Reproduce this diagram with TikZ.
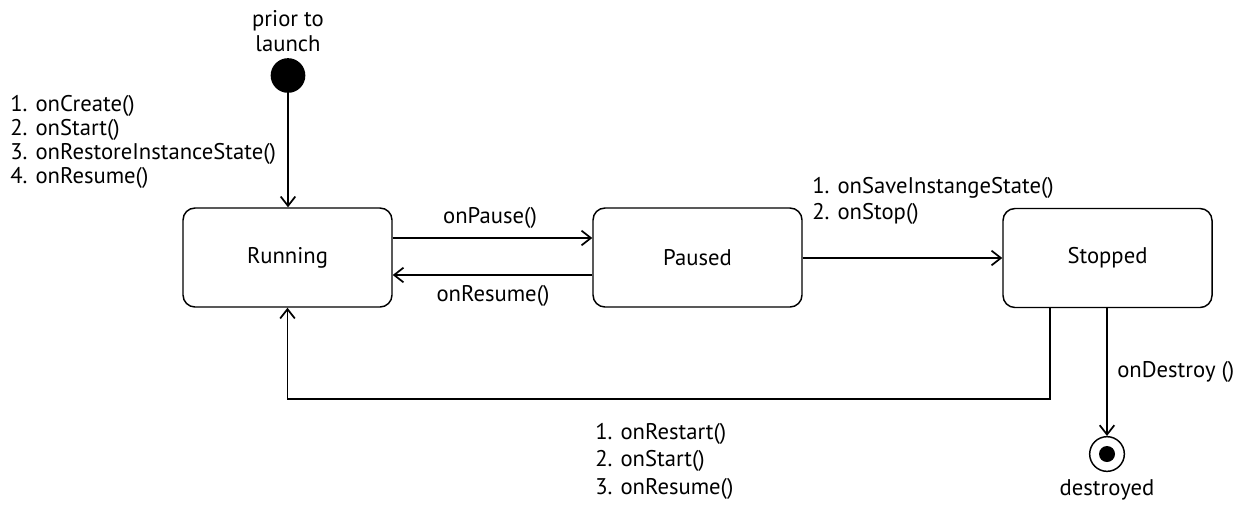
\documentclass[tikz,border=0pt]{standalone}
\usepackage{fontspec}
\setmainfont{PT Sans}
\usetikzlibrary{arrows.meta}
\begin{document}
\begin{tikzpicture}[x=0.75pt,y=-0.75pt,
  state/.style={draw, line width=1.1pt, rounded corners=9pt, minimum width=156.75pt, minimum height=74.25pt, font=\fontsize{17}{20}\selectfont},
  lbl/.style={font=\fontsize{17}{18}\selectfont, inner sep=0pt},
  conn/.style={line width=1.1pt, -{Straight Barb[length=7pt,width=11pt,line width=1.3pt]}},
]
\useasboundingbox (0,0) rectangle (1248,508);
\node[state] (run) at (287.5,257.5) {Running};
\node[state] (pau) at (697.5,257.5) {Paused};
\node[state] (stp) at (1107.5,258) {Stopped};
\node[circle, fill, minimum size=26pt, inner sep=0pt] (start) at (288,75.5) {};
\node[circle, draw, line width=1.1pt, minimum size=26pt, inner sep=0pt] (end) at (1107,454) {};
\node[circle, fill, minimum size=12pt, inner sep=0pt] (endin) at (end) {};
\coordinate (bend) at (1050,399);

\draw[conn] (start.south) -- (start.south |- run.north);
\draw[conn] (run.east |- 0,238) -- (pau.west |- 0,238);
\draw[conn] (pau.west |- 0,275) -- (run.east |- 0,275);
\draw[conn] (pau.east |- 0,258) -- (stp.west |- 0,258);
\draw[conn] (stp.south -| bend) -- (bend) -| (run.south);
\draw[conn] (stp.south -| end) -- (end.north);

\node[lbl, align=center, font=\fontsize{17}{18.75}\selectfont] (prior) at (288,31) {prior to\\launch};
\node[lbl, align=left, anchor=west] (createlbl) at (10,142) {1. onCreate()\\2. onStart()\\3. onRestoreInstanceState()\\4. onResume()};
\node[lbl] (pauselbl) at (490,218) {onPause()};
\node[lbl] (resumelbl) at (493,296) {onResume()};
\node[lbl, align=left, anchor=west, font=\fontsize{17}{19.5}\selectfont] (savelbl) at (812,201) {1. onSaveInstangeState()\\2. onStop()};
\node[lbl, anchor=west] (destroylbl) at (1117,372) {onDestroy ()};
\node[lbl, align=left, anchor=west, font=\fontsize{17}{20.6}\selectfont] (restartlbl) at (595,461) {1. onRestart()\\2. onStart()\\3. onResume()};
\node[lbl] (destroyedlbl) at (1107,490) {destroyed};
\end{tikzpicture}
\end{document}
